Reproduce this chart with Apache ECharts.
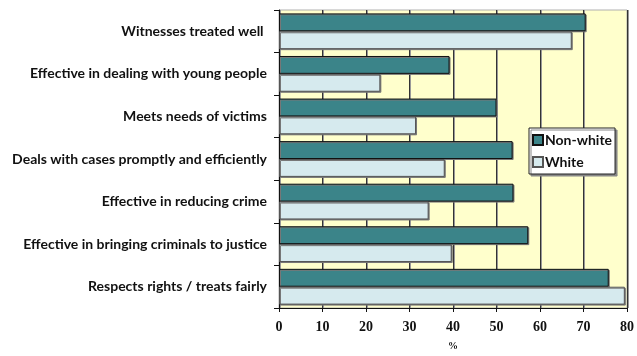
<!DOCTYPE html>
<html><head><meta charset="utf-8">
<script src="https://cdn.jsdelivr.net/npm/echarts@6/dist/echarts.min.js"></script>
<style>html,body{margin:0;padding:0;background:#fff}#c{width:637px;height:356px}</style>
</head><body><div id="c"></div>
<script>
const categories = [
  'Witnesses treated well ',
  'Effective in dealing with young people',
  'Meets needs of victims',
  'Deals with cases promptly and efficiently',
  'Effective in reducing crime',
  'Effective in bringing criminals to justice',
  'Respects rights / treats fairly'
];
const nonWhite = [70.5, 39.2, 50.0, 53.7, 53.9, 57.3, 75.8];
const white = [67.3, 23.3, 31.5, 38.1, 34.4, 39.7, 79.5];
const xTicks = { min: 0, max: 80, interval: 10 };

const chart = echarts.init(document.getElementById('c'), null, {renderer: 'canvas'});
chart.setOption({
  animation: false,
  backgroundColor: '#fff',
  grid: { left: 279, right: 9, top: 10, bottom: 37, show: true, backgroundColor: '#ffffcc', borderColor: '#b0b0b0', borderWidth: 1 },
  legend: {
    orient: 'vertical', left: 529, top: 128,
    backgroundColor: '#fff', borderColor: '#222', borderWidth: 1,
    shadowColor: '#888', shadowOffsetX: 2, shadowOffsetY: 2, shadowBlur: 0,
    padding: [5, 3, 5, 3], itemGap: 8, itemWidth: 10, itemHeight: 10,
    icon: 'rect',
    textStyle: { fontFamily: 'Lato', fontWeight: 'bold', fontSize: 14, color: '#111', padding: [0, 0, 0, -3] },
    data: ['Non-white', 'White']
  },
  xAxis: {
    type: 'value', min: xTicks.min, max: xTicks.max, interval: xTicks.interval,
    name: '%', nameLocation: 'middle', nameGap: 33,
    nameTextStyle: { fontFamily: 'Liberation Serif', fontWeight: 'bold', fontSize: 10, color: '#111' },
    axisLine: { show: true, lineStyle: { color: '#111', width: 1 } },
    axisTick: { show: true, length: 4, lineStyle: { color: '#111' } },
    axisLabel: { fontFamily: 'Liberation Serif', fontWeight: 'bold', fontSize: 14, color: '#111', margin: 12 },
    splitLine: { show: true, lineStyle: { color: '#333', width: 1, shadowColor: '#999', shadowOffsetX: 1, shadowBlur: 0 } }
  },
  yAxis: {
    type: 'category', inverse: true, data: categories,
    axisLine: { show: true, lineStyle: { color: '#111', width: 1 } },
    axisTick: { show: true, length: 5, lineStyle: { color: '#111' } },
    axisLabel: { fontFamily: 'Lato', fontWeight: 'bold', fontSize: 14, color: '#111', margin: 12 },
    splitLine: { show: false }
  },
  series: [
    {
      name: 'Non-white', type: 'bar', data: nonWhite,
      barGap: '0%', barCategoryGap: '16%',
      itemStyle: { color: '#3b8489', borderColor: '#111', borderWidth: 1, shadowColor: '#777', shadowOffsetX: 1, shadowOffsetY: 1, shadowBlur: 0 }
    },
    {
      name: 'White', type: 'bar', data: white,
      barGap: '0%', barCategoryGap: '16%',
      itemStyle: { color: '#d6eaee', borderColor: '#555', borderWidth: 1, shadowColor: '#777', shadowOffsetX: 1, shadowOffsetY: 1, shadowBlur: 0 }
    }
  ]
});
</script></body></html>
